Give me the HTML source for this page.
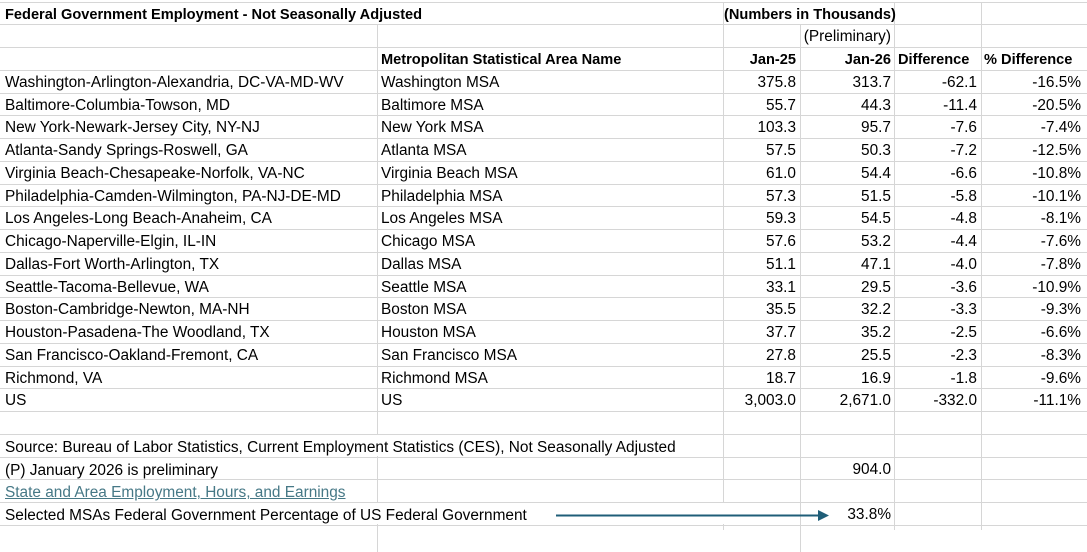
<!DOCTYPE html>
<html><head><meta charset="utf-8"><style>
body{margin:0;background:#fff;width:1087px;height:528px;overflow:hidden;position:relative;font-family:"Liberation Sans",Arial,sans-serif;font-size:15.4px;color:#000}
.h{position:absolute;left:0;width:1087px;height:1px;background:#d6d6d6}
.v{position:absolute;width:1px;background:#d6d6d6}
.t{position:absolute;height:22px;line-height:26px;white-space:nowrap}
.r{text-align:right}
.b{font-weight:bold;font-size:14.6px}
.w{background:#fff}
</style></head><body>
<script>
var H=22.75,T=1.7,b=document.body;
function el(c,s,txt){var d=document.createElement('div');d.className=c;d.style.cssText=s;if(txt!=null)d.textContent=txt;b.appendChild(d);return d;}
for(var i=0;i<=23;i++)el('h','top:'+(T+H*i)+'px');
[[377,1],[723,0],[800,1],[894,0],[981,0]].forEach(function(c){el('v','left:'+c[0]+'px;top:'+(T+H*c[1])+'px;height:'+(528)+'px');});
function row(i){return T+H*i;}
function L(i,x,txt,cls){el('t '+(cls||''),'top:'+row(i)+'px;left:'+x+'px',txt);}
function R(i,x,txt,cls){el('t r '+(cls||''),'top:'+row(i)+'px;right:'+(1087-x)+'px',txt);}
el('t b w','top:'+(row(0)+1)+'px;left:0;width:722px;height:21px;line-height:25px;padding-left:5px;box-sizing:border-box','Federal Government Employment - Not Seasonally Adjusted');
el('t b w','top:'+(row(0)+1)+'px;left:724px;width:170px;height:21px;line-height:25px','(Numbers in Thousands)');
R(1,891,'(Preliminary)');
L(2,381,'Metropolitan Statistical Area Name','b');
R(2,796,'Jan-25','b');R(2,891,'Jan-26','b');L(2,898,'Difference','b');L(2,984,'% Difference','b');
var d=[
["Washington-Arlington-Alexandria, DC-VA-MD-WV","Washington MSA","375.8","313.7","-62.1","-16.5%"],
["Baltimore-Columbia-Towson, MD","Baltimore MSA","55.7","44.3","-11.4","-20.5%"],
["New York-Newark-Jersey City, NY-NJ","New York MSA","103.3","95.7","-7.6","-7.4%"],
["Atlanta-Sandy Springs-Roswell, GA","Atlanta MSA","57.5","50.3","-7.2","-12.5%"],
["Virginia Beach-Chesapeake-Norfolk, VA-NC","Virginia Beach MSA","61.0","54.4","-6.6","-10.8%"],
["Philadelphia-Camden-Wilmington, PA-NJ-DE-MD","Philadelphia MSA","57.3","51.5","-5.8","-10.1%"],
["Los Angeles-Long Beach-Anaheim, CA","Los Angeles MSA","59.3","54.5","-4.8","-8.1%"],
["Chicago-Naperville-Elgin, IL-IN","Chicago MSA","57.6","53.2","-4.4","-7.6%"],
["Dallas-Fort Worth-Arlington, TX","Dallas MSA","51.1","47.1","-4.0","-7.8%"],
["Seattle-Tacoma-Bellevue, WA","Seattle MSA","33.1","29.5","-3.6","-10.9%"],
["Boston-Cambridge-Newton, MA-NH","Boston MSA","35.5","32.2","-3.3","-9.3%"],
["Houston-Pasadena-The Woodland, TX","Houston MSA","37.7","35.2","-2.5","-6.6%"],
["San Francisco-Oakland-Fremont, CA","San Francisco MSA","27.8","25.5","-2.3","-8.3%"],
["Richmond, VA","Richmond MSA","18.7","16.9","-1.8","-9.6%"],
["US","US","3,003.0","2,671.0","-332.0","-11.1%"]];
d.forEach(function(r,k){var i=3+k;L(i,5,r[0]);L(i,381,r[1]);R(i,796,r[2]);R(i,891,r[3]);R(i,977,r[4]);R(i,1081,r[5]);});
function W(i,w,txt,extra){el('t w','top:'+(row(i)+1)+'px;left:0;width:'+w+'px;height:21px;line-height:25px;padding-left:5px;box-sizing:border-box;'+(extra||''),txt);}
W(19,722,'Source: Bureau of Labor Statistics, Current Employment Statistics (CES), Not Seasonally Adjusted');
W(20,376,'(P) January 2026 is preliminary');
R(20,891,'904.0');
W(21,376,'State and Area Employment, Hours, and Earnings','color:#467886;text-decoration:underline');
W(22,799,'Selected MSAs Federal Government Percentage of US Federal Government');
R(22,891,'33.8%');
</script>
<svg style="position:absolute;left:0;top:0" width="1087" height="528"><line x1="556" y1="515.5" x2="820" y2="515.5" stroke="#1f5e78" stroke-width="2"/><polygon points="818,510 829,515.5 818,521" fill="#1f5e78"/></svg>
</body></html>
